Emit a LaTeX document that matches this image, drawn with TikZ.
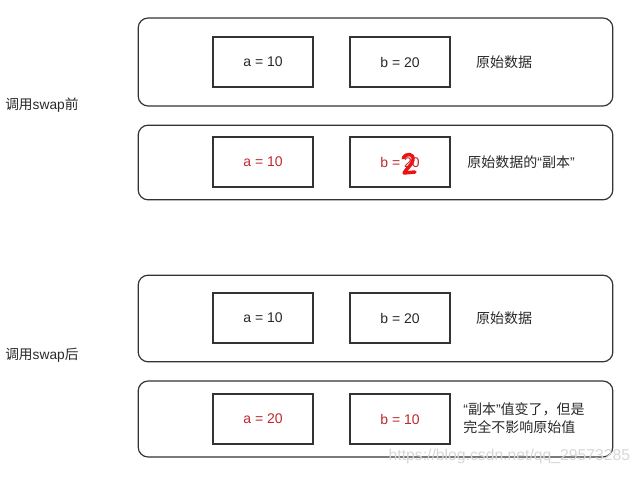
\documentclass[tikz,border=0pt]{standalone}
\usepackage{fontspec}
\setmainfont{Liberation Sans}
\newfontfamily\cjk{Noto Sans CJK SC}
\usepackage{xcolor}
\definecolor{swline}{RGB}{51,51,51}
\definecolor{swtext}{RGB}{40,40,40}
\definecolor{swred}{RGB}{190,40,45}
\definecolor{swmark}{RGB}{235,20,20}
\definecolor{swgray}{RGB}{215,215,215}
\usetikzlibrary{positioning}

\tikzset{
  frame/.style={draw=swline, line width=0.9pt, rounded corners=7.5pt, minimum width=356pt},
  valbox/.style={draw=swline, line width=0.9pt, minimum width=75pt, minimum height=37.5pt, font=\fontsize{10.5}{12}\selectfont, text=swtext},
  note/.style={font=\fontsize{10.5}{13}\selectfont, text=swtext, align=left},
  side/.style={font=\fontsize{10.3}{12}\selectfont, text=swtext, anchor=west, inner sep=0pt}
}

\begin{document}
\begin{tikzpicture}[x=0.75pt, y=-0.75pt]
  \useasboundingbox (0,0) rectangle (639,477);

  % before swap
  \node[frame, minimum height=66pt] (orig1) at (375.5,62) {};
  \node[valbox] (a1) at (263,62) {a = 10};
  \node[valbox] (b1) at (400,62) {b = 20};
  \node[note] (n1) at (504,62) {\cjk 原始数据};

  \node[frame, minimum height=56pt] (copy1) at (375.5,162.5) {};
  \node[valbox, text=swred] (a2) at (263,162) {a = 10};
  \node[valbox, text=swred] (b2) at (400,162) {b = 20};
  \node[note] (n2) at (521,162) {{\cjk 原始数据的}“{\cjk 副本}”};
  % red scribble
  \draw[swmark, line width=2.6pt, line cap=round, line join=round]
    (403,158) .. controls (406,153) and (414,153) .. (413,160)
    .. controls (412,165) and (406,169) .. (404,173) -- (415,172);

  \node[side] (before) at (5,105) {{\cjk 调用}swap{\cjk 前}};

  % after swap
  \node[frame, minimum height=65pt] (orig2) at (375.5,318.5) {};
  \node[valbox] (a3) at (263,318) {a = 10};
  \node[valbox] (b3) at (400,318) {b = 20};
  \node[note] (n3) at (504,318) {\cjk 原始数据};

  \node[frame, minimum height=57pt] (copy2) at (375.5,419) {};
  \node[valbox, text=swred] (a4) at (263,419) {a = 20};
  \node[valbox, text=swred] (b4) at (400,419) {b = 10};
  \node[note] (n4) at (524,418) {“{\cjk 副本}”{\cjk 值变了，但是}\\{\cjk 完全不影响原始值}};

  \node[side] (after) at (5,355) {{\cjk 调用}swap{\cjk 后}};

  % watermark
  \node[font=\fontsize{11.8}{13}\selectfont, text=swgray, anchor=west] (mark) at (384,456) {https://blog.csdn.net/qq\_29573285};
\end{tikzpicture}
\end{document}
